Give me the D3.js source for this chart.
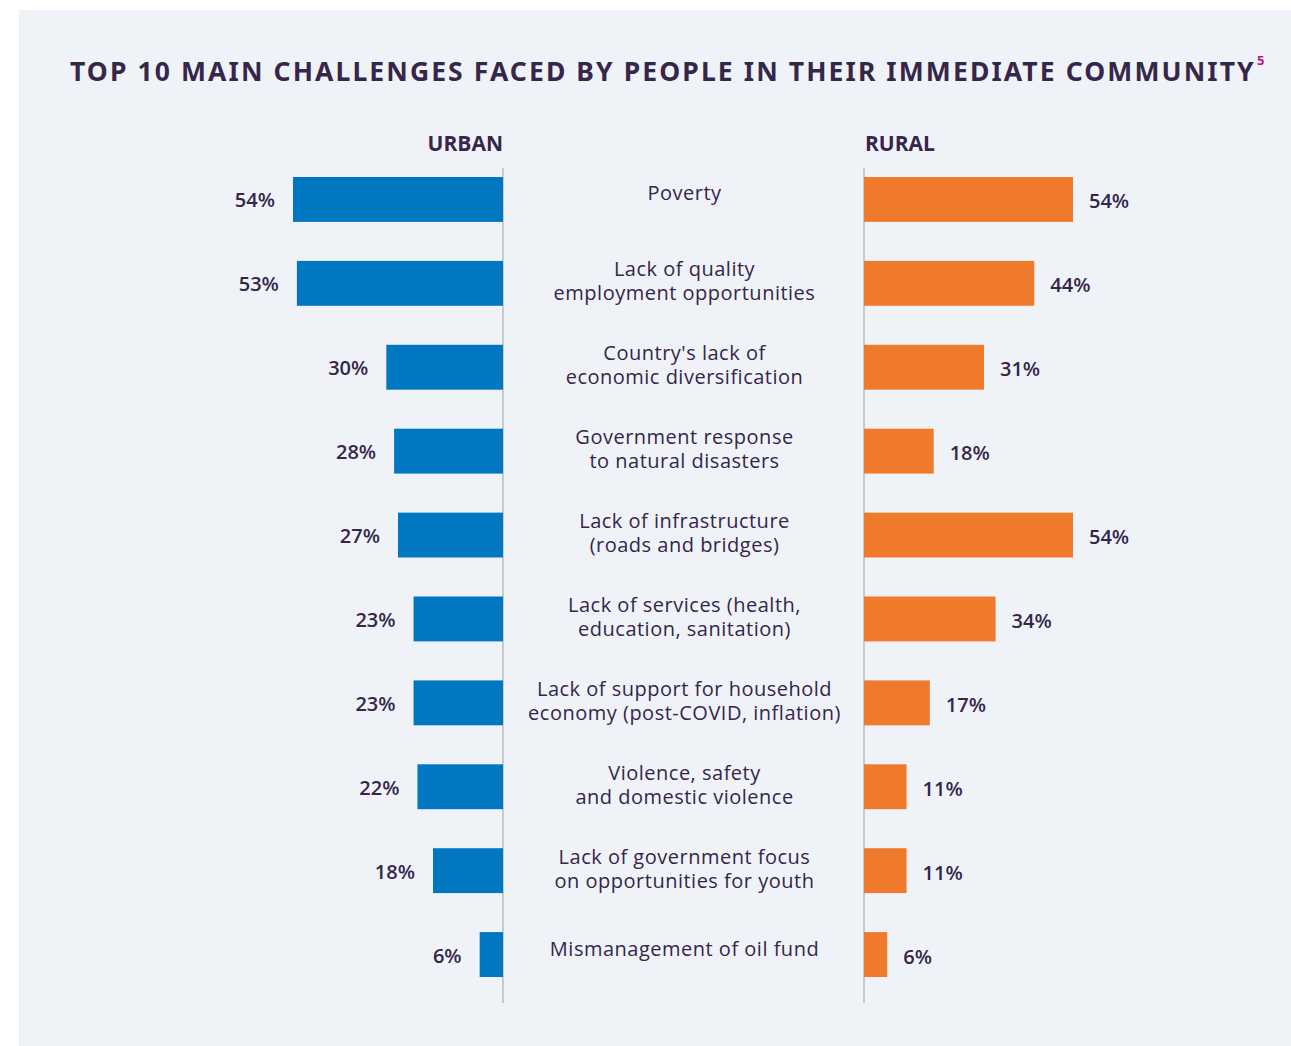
<!DOCTYPE html>
<html><head><meta charset="utf-8">
<script src="https://cdn.jsdelivr.net/npm/d3@7"></script>
<style>
body{margin:0;background:#fff;}
svg{display:block;}
text{font-family:"Open Sans","Noto Sans",sans-serif;}
</style></head>
<body>
<svg id="chart" width="1291" height="1046"></svg>
<script>
const categories = [
  ["Poverty"],
  ["Lack of quality","employment opportunities"],
  ["Country's lack of","economic diversification"],
  ["Government response","to natural disasters"],
  ["Lack of infrastructure","(roads and bridges)"],
  ["Lack of services (health,","education, sanitation)"],
  ["Lack of support for household","economy (post-COVID, inflation)"],
  ["Violence, safety","and domestic violence"],
  ["Lack of government focus","on opportunities for youth"],
  ["Mismanagement of oil fund"]
];
const urban = [54,53,30,28,27,23,23,22,18,6];
const rural = [54,44,31,18,54,34,17,11,11,6];
const seriesNames = ["URBAN","RURAL"];
const title = "TOP 10 MAIN CHALLENGES FACED BY PEOPLE IN THEIR IMMEDIATE COMMUNITY";
const footnote = "5";

const svg = d3.select("#chart");
const textCol = "#35264a";
svg.append("rect").attr("x",19).attr("y",10).attr("width",1272).attr("height",1036).attr("fill","#eff3f8");

svg.append("text").attr("x",70).attr("y",81)
  .attr("font-size",26.5).attr("font-weight",700).attr("letter-spacing",2.1)
  .attr("fill",textCol).style("font-family","'Noto Sans',sans-serif").text(title);
svg.append("text").attr("x",1257).attr("y",65).attr("font-size",13).attr("font-weight",700)
  .attr("fill","#b8177c").text(footnote);

const idx = d3.range(categories.length);
const y = d3.scaleBand().domain(idx).range([177,977]).paddingInner(0.465).paddingOuter(0);
const leftAxisX = 503, rightAxisX = 864;
const xL = d3.scaleLinear().domain([0,54]).range([leftAxisX, leftAxisX-210]);
const xR = d3.scaleLinear().domain([0,54]).range([rightAxisX, rightAxisX+209]);

// axis lines
[leftAxisX, rightAxisX].forEach(x=>{
  svg.append("line").attr("x1",x).attr("x2",x).attr("y1",168).attr("y2",1003)
    .attr("stroke","#c9cacc").attr("stroke-width",2);
});

svg.append("text").attr("x",leftAxisX).attr("y",151).attr("text-anchor","end")
  .attr("font-size",21).attr("font-weight",700).attr("fill",textCol).text(seriesNames[0]);
svg.append("text").attr("x",rightAxisX+1).attr("y",151)
  .attr("font-size",21).attr("font-weight",700).attr("fill",textCol).text(seriesNames[1]);

svg.selectAll("rect.u").data(idx).join("rect").attr("class","u")
  .attr("x",i=>xL(urban[i])).attr("width",i=>xL(0)-xL(urban[i]))
  .attr("y",i=>y(i)).attr("height",y.bandwidth()).attr("fill","#0077c0");
svg.selectAll("rect.r").data(idx).join("rect").attr("class","r")
  .attr("x",xR(0)).attr("width",i=>xR(rural[i])-xR(0))
  .attr("y",i=>y(i)).attr("height",y.bandwidth()).attr("fill","#f07a2b");

svg.selectAll("text.ul").data(idx).join("text").attr("class","ul")
  .attr("x",i=>xL(urban[i])-18).attr("y",i=>y(i)+y.bandwidth()/2+8)
  .attr("text-anchor","end").attr("font-size",20).attr("font-weight",600).attr("fill",textCol)
  .text(i=>urban[i]+"%");
svg.selectAll("text.rl").data(idx).join("text").attr("class","rl")
  .attr("x",i=>xR(rural[i])+16).attr("y",i=>y(i)+y.bandwidth()/2+9)
  .attr("font-size",20).attr("font-weight",600).attr("fill",textCol)
  .text(i=>rural[i]+"%");

const cx = (leftAxisX+rightAxisX)/2 + 1;
idx.forEach(i=>{
  const lines = categories[i];
  const mid = y(i)+y.bandwidth()/2;
  const lh = 24;
  const shift = lines.length>1 ? 5 : 1;
  const t = svg.append("text").attr("text-anchor","middle").attr("font-size",20)
    .attr("letter-spacing",0.5)
    .attr("fill",textCol).attr("font-weight",500);
  lines.forEach((l,k)=>{
    const yy = mid - (lines.length-1)*lh/2 + k*lh + shift;
    t.append("tspan").attr("x",cx).attr("y",yy).text(l);
  });
});
</script>
</body></html>
